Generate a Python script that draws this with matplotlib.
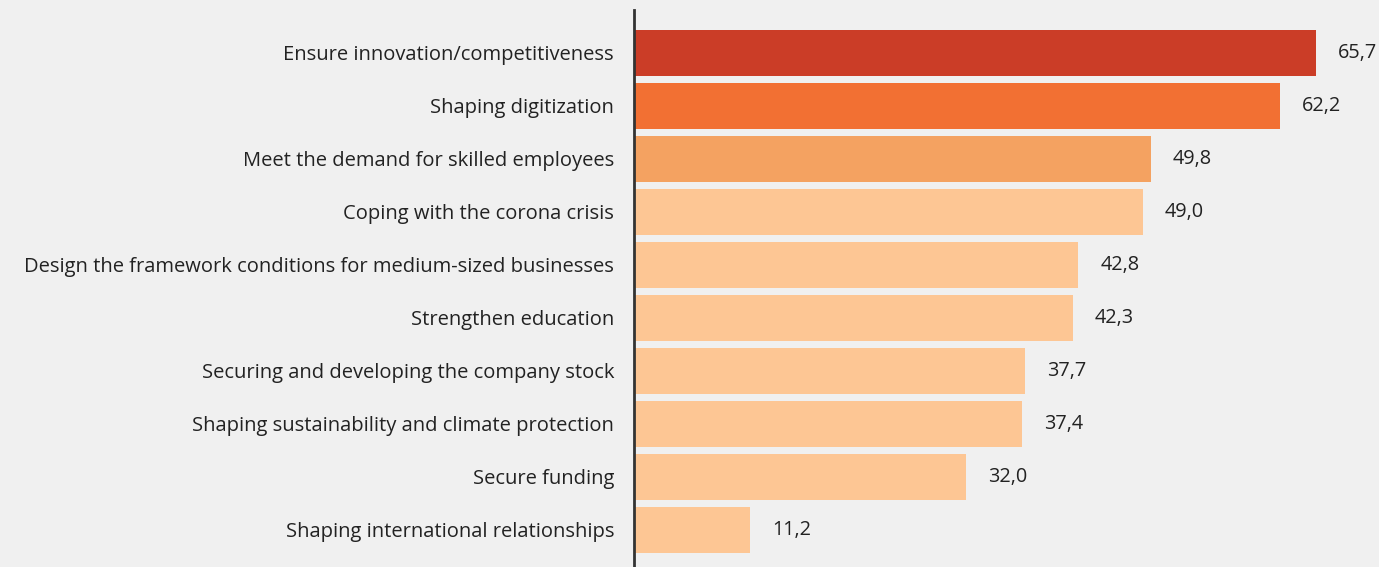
import matplotlib
matplotlib.use("Agg")
import matplotlib.pyplot as plt

categories = [
    "Ensure innovation/competitiveness",
    "Shaping digitization",
    "Meet the demand for skilled employees",
    "Coping with the corona crisis",
    "Design the framework conditions for medium-sized businesses",
    "Strengthen education",
    "Securing and developing the company stock",
    "Shaping sustainability and climate protection",
    "Secure funding",
    "Shaping international relationships",
]
values = [65.7, 62.2, 49.8, 49.0, 42.8, 42.3, 37.7, 37.4, 32.0, 11.2]
colors = ["#CB3D27", "#F27033", "#F4A261"] + ["#FDC694"] * 7

bg = "#F0F0F0"
plt.rcParams['font.family'] = ['Open Sans', 'DejaVu Sans']

W, H = 1379, 567
fig = plt.figure(figsize=(W / 100, H / 100), dpi=100, facecolor=bg)
ax = fig.add_axes([634 / W, 0, 1 - 634 / W, 1 - 10 / H])
ax.set_facecolor(bg)

ypos = list(range(len(categories)))
ax.barh(ypos, values, height=46 / 53, color=colors, left=0)
ax.set_xlim(0, 745 / 10.38)
ax.set_ylim(9 + 37 / 53, -43 / 53)

for y, v in zip(ypos, values):
    ax.annotate(f"{v:.1f}".replace(".", ","), (v, y), xytext=(22, 0),
                textcoords="offset pixels", va="center", ha="left",
                fontsize=14.3, color="#222222")

ax.set_yticks(ypos)
ax.set_yticklabels(categories, fontsize=14.5, color="#222222")
ax.tick_params(axis="y", length=0, pad=14.4)
ax.set_xticks([])
for s in ["top", "right", "bottom"]:
    ax.spines[s].set_visible(False)
ax.spines["left"].set_color("#333333")
ax.spines["left"].set_linewidth(2)

fig.savefig("out.png", dpi=100, facecolor=bg)
